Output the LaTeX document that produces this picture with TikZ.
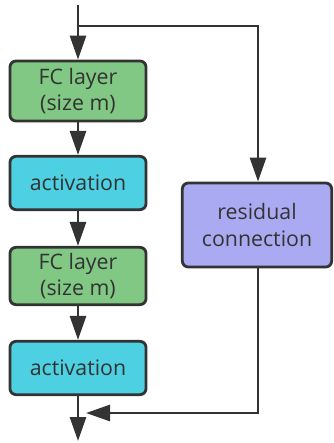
\documentclass[tikz,border=0pt]{standalone}
\usepackage{fontspec}
\setmainfont{Open Sans}
\usepackage{tikz}
\usepackage{xcolor}
\usetikzlibrary{arrows.meta}

\definecolor{fcgreen}{HTML}{80C883}
\definecolor{actcyan}{HTML}{4DD0E1}
\definecolor{respurple}{HTML}{AAAAF2}
\definecolor{linegray}{HTML}{333333}

\begin{document}
\begin{tikzpicture}[x=0.75pt,y=-0.75pt]
        \tikzstyle{every node}=[draw=linegray,line width=2.1pt,rounded corners=4.5pt,align=center,text=linegray,font=\fontsize{16}{20}\selectfont,inner sep=0pt]
        \tikzstyle{flow}=[draw=linegray,line width=2.1pt,-{Triangle[length=18pt,width=12pt]}]
        \useasboundingbox (0,0) rectangle (334,443);
        \node[fill=fcgreen,minimum width=102pt,minimum height=45pt] (fc1) at (78,91) {FC layer\\(size m)};
        \node[fill=actcyan,minimum width=102pt,minimum height=40pt] (act1) at (78,183) {activation};
        \node[fill=fcgreen,minimum width=102pt,minimum height=43pt] (fc2) at (78,276) {FC layer\\(size m)};
        \node[fill=actcyan,minimum width=102pt,minimum height=40pt] (act2) at (78,368) {activation};
        \node[fill=respurple,minimum width=112pt,minimum height=63pt] (res) at (257,225) {residual\\connection};

        \coordinate (in) at (78,5);
        \coordinate (split) at (78,26);
        \coordinate (turn) at (258,26);
        \coordinate (join) at (86,413);
        \coordinate (out) at (78,441);

        \draw[flow] (in) to (fc1);
        \draw[flow] (fc1) to (act1);
        \draw[flow] (act1) to (fc2);
        \draw[flow] (fc2) to (act2);
        \draw[flow] (act2) to (out);

        \draw[flow] (split) -- (turn) -- (turn |- res.north);
        \draw[flow] (turn |- res.south) |- (join);
    \end{tikzpicture}
\end{document}
